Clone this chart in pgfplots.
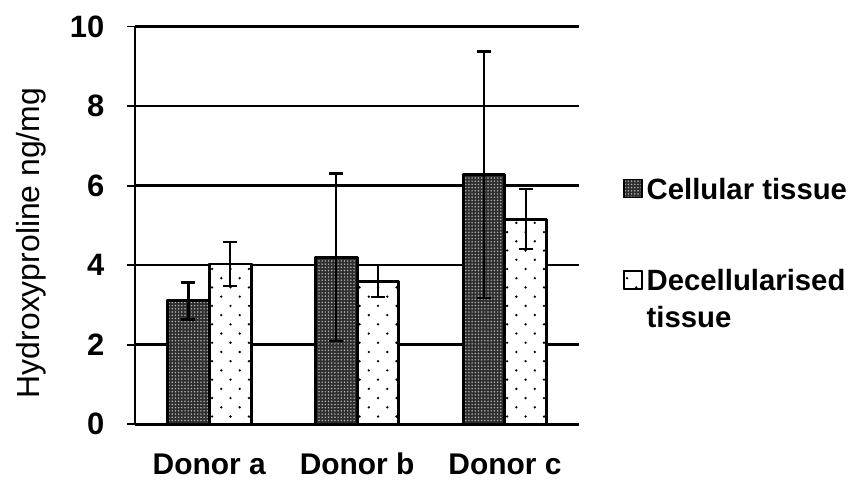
\documentclass[border=0pt]{standalone}
\usepackage{pgfplots}
\pgfplotsset{compat=1.18}
\usepackage{fontspec}
\setmainfont{Liberation Sans}
\usetikzlibrary{patterns}
\pgfdeclarepatternformonly{sparsedots}{\pgfqpoint{-1pt}{-1pt}}{\pgfqpoint{10.25pt}{10.25pt}}{\pgfqpoint{9.25pt}{9.25pt}}{%
  \pgfpathcircle{\pgfqpoint{0pt}{0pt}}{0.65pt}%
  \pgfpathcircle{\pgfqpoint{4.625pt}{4.625pt}}{0.65pt}%
  \pgfusepath{fill}}
\pgfdeclarepatternformonly{finedots}{\pgfqpoint{-0.5pt}{-0.5pt}}{\pgfqpoint{2.1pt}{2.1pt}}{\pgfqpoint{1.6pt}{1.6pt}}{%
  \pgfpathcircle{\pgfqpoint{0pt}{0pt}}{0.42pt}%
  \pgfusepath{fill}}
\begin{document}
\begin{tikzpicture}
\begin{axis}[
  scale only axis,
  width=222.5pt, height=199.5pt,
  ybar=0pt, bar width=21pt,
  xmin=-0.5, xmax=2.5, ymin=0, ymax=10,
  enlargelimits=false,
  axis x line*=bottom, axis y line*=left,
  axis line style={line width=0.9pt},
  xtick={0,1,2},
  xticklabels={Donor a, Donor b, Donor c},
  x tick style={draw=none},
  extra x ticks={-0.5,0.5,1.5,2.5},
  extra x tick labels={},
  extra x tick style={tick align=outside, major tick length=4pt, grid=none, tick style={draw=black, line width=0.9pt}},
  xticklabel style={font=\fontsize{15pt}{18pt}\selectfont\bfseries, anchor=base, yshift=-21pt},
  ytick={0,2,4,6,8,10},
  y tick style={line width=0.9pt, black},
  major tick length=4pt,
  ytick align=outside,
  yticklabel style={font=\fontsize{15.5pt}{18pt}\selectfont\bfseries, xshift=-8pt},
  /pgf/number format/assume math mode=true,
  ymajorgrids,
  grid style={black, line width=1.3pt},
  ylabel={Hydroxyproline ng/mg},
  ylabel style={font=\fontsize{16pt}{18pt}\selectfont, at={(axis description cs:-0.234,0.456)}, anchor=center, rotate=0},
  legend style={draw=none, fill=none, at={(1.099,0.63)}, anchor=north west,
    font=\fontsize{14.7pt}{18.5pt}\selectfont\bfseries, cells={anchor=base west, inner xsep=3pt},
    row sep=27.5pt, inner sep=0pt},
  legend image code/.code={\draw[#1, line width=0.8pt] (0pt,1pt) rectangle (9pt,10pt);},
]
\addplot[draw=black, line width=1.5pt, line join=round, fill=black!82,
  postaction={pattern=finedots, pattern color=black!30},
  error bars/.cd, y dir=both, y explicit,
  error bar style={line width=1.25pt, solid, black},
  error mark options={rotate=90, line width=1.25pt, mark size=3.5pt, black}]
  coordinates {(0,3.1) +- (0,0.47) (1,4.2) +- (0,2.1) (2,6.27) +- (0,3.1)};
\addplot[draw=black, line width=1.5pt, line join=round, fill=white,
  postaction={pattern=sparsedots, pattern color=black},
  error bars/.cd, y dir=both, y explicit,
  error bar style={line width=1.25pt, solid, black},
  error mark options={rotate=90, line width=1.25pt, mark size=3.5pt, black}]
  coordinates {(0,4.03) +- (0,0.55) (1,3.6) +- (0,0.4) (2,5.16) +- (0,0.75)};
\legend{Cellular tissue, {\begin{tabular}[t]{@{}l@{}}Decellularised\\tissue\end{tabular}}}
\end{axis}
\path (current bounding box.north west) +(-5pt,4.5pt);
\path (current bounding box.south east) +(1.5pt,0pt);
\end{tikzpicture}
\end{document}
